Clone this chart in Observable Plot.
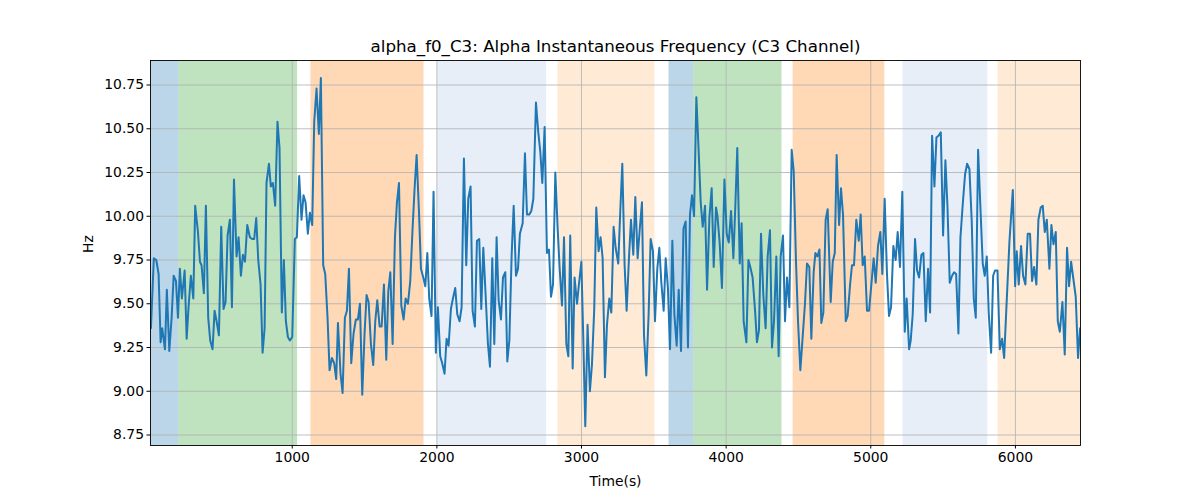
<!DOCTYPE html>
<html>
<head>
<meta charset="utf-8">
<script src="https://cdn.jsdelivr.net/npm/d3@7"></script>
<script src="https://cdn.jsdelivr.net/npm/@observablehq/plot@0.6"></script>
<style>
  html, body { margin: 0; padding: 0; background: white; }
  #chart { width: 1200px; height: 500px; }
</style>
</head>
<body>
<div id="chart"></div>
<script>
const titleText = "alpha_f0_C3: Alpha Instantaneous Frequency (C3 Channel)";
const xLabel = "Time(s)";
const yLabel = "Hz";

const xTicks = [1000, 2000, 3000, 4000, 5000, 6000];
const yTicks = [8.75, 9.0, 9.25, 9.5, 9.75, 10.0, 10.25, 10.5, 10.75];

// shaded state intervals
const spanStart = [0, 216, 1129, 2003, 2837, 3605, 3776, 4463, 5223, 5880];
const spanEnd   = [216, 1037, 1911, 2759, 3508, 3776, 4386, 5097, 5809, 6460];
const spanType  = ["s0", "s1", "s2", "s3", "s4", "s0", "s1", "s2", "s3", "s4"];

const timeS = [
  23,43,60,76,90,101,120,133,150,166,180,196,210,223,237,256,270,283,299,316,
  329,348,362,373,389,403,419,433,449,463,477,493,509,525,539,553,569,583,597,615,
  629,645,659,
  673,689,707,723,737,751,765,781,795,809,822,839,852,866,882,898,912,928,942,956,
  970,984,1000,1018,1032,1048,1064,1078,1092,1108,1122,1138,1152,1168,1184,1198,1214,1228,1244,1258,
  1274,1290,1304,1316,
  1334,1348,1364,1378,1392,1408,1424,1440,1454,1468,1484,1500,1514,1528,1544,1560,1574,1588,1604,1618,
  1634,1650,1664,1678,1694,1710,1724,1738,1754,1770,1784,1800,1816,1832,1846,1860,1876,1890,1906,1920,
  1934,1947,1963,1977,
  1993,2007,2023,2037,2053,2067,2081,2097,2111,2127,2141,2157,2171,2187,2203,2217,2233,2247,2263,2277,
  2293,2307,2321,2337,2353,2367,2383,2397,2413,2427,2443,2457,2473,2487,2501,2517,2531,2547,2561,2574,
  2593,2609,2623,2639,2653,
  2667,2685,2701,2715,2729,2745,2761,2775,2789,2803,2819,2835,2849,2865,2879,2895,2909,2922,2939,2952,
  2969,2982,2999,3012,3026,3042,3058,3072,3088,3102,3118,3132,3146,3162,3176,3192,3206,3222,3236,3254,
  3268,3282,3298,
  3312,3328,3342,3358,3372,3388,3402,3418,3432,3448,3464,3478,3494,3508,3524,3538,3552,3568,3582,3598,
  3612,3628,3642,3658,3672,3688,3705,3720,3736,3750,3764,3778,3794,3808,3824,3838,3854,3868,3884,3900,
  3914,3930,3940,
  3955,3971,3988,4004,4018,4034,4050,4064,4077,4094,4107,4121,4140,4154,4167,4183,4200,4213,4227,4241,
  4257,4273,4287,4303,4317,4331,4347,4363,4377,4393,4407,4421,4437,4453,4467,4483,4497,4513,4529,4545,
  4559,4575,4589,4605,
  4617,4631,4645,4658,4672,4688,4702,4723,4737,4751,4764,4781,4794,4808,4827,4840,4857,4870,4884,4900,
  4917,4930,4944,4958,4974,4988,5004,5020,5034,5050,5066,5080,5096,5112,5126,5140,5156,5172,5186,5202,
  5218,5235,5248,5265,
  5276,5290,5306,5320,5334,5350,5364,5380,5396,5410,5424,5440,5454,5468,5484,5500,5516,5530,5546,5562,
  5576,5590,5606,5620,5636,5652,5666,5682,5698,5712,5726,5742,5758,5774,5788,5802,5816,5832,5846,5859,
  5876,5892,
  5908,5922,5940,5959,5982,5998,6009,6023,6039,6053,6069,6085,6101,6115,6129,6145,6159,6175,6189,6203,
  6217,6235,6249,6263,6279,6293,6307,6325,6341,6357,6371,6385,6401,6417,6433,6447
];

const alphaHz = [
  9.36,9.76,9.75,9.67,9.28,9.36,9.24,9.58,9.23,9.42,9.66,9.63,9.42,9.70,9.53,9.69,9.30,9.48,9.66,9.53,
  10.06,9.91,9.74,9.72,9.56,10.06,9.42,9.29,9.24,9.46,9.40,9.32,9.94,9.47,9.51,9.89,9.98,9.48,10.21,9.77,
  9.88,9.66,9.78,
  9.74,9.95,9.88,9.87,9.87,9.99,9.75,9.61,9.22,9.36,10.19,10.30,10.17,10.19,10.06,10.54,10.39,9.45,9.75,9.40,
  9.31,9.29,9.31,9.87,9.88,10.23,9.98,10.12,10.08,9.90,10.02,9.95,10.54,10.73,10.47,10.79,9.72,9.67,9.42,9.12,
  9.19,9.16,9.07,9.39,
  9.10,8.99,9.42,9.46,9.70,9.16,9.33,9.41,9.41,9.50,8.98,9.33,9.55,9.51,9.27,9.15,9.40,9.52,9.37,9.37,
  9.61,9.18,9.57,9.68,9.27,9.88,10.08,10.19,9.49,9.41,9.53,9.50,9.63,9.93,10.16,10.35,10.03,9.70,9.65,9.60,
  9.79,9.53,9.43,10.14,
  9.22,9.48,9.20,9.16,9.10,9.30,9.26,9.47,9.53,9.59,9.44,9.40,9.48,10.33,9.72,10.10,10.17,9.46,9.37,9.86,
  9.87,9.47,9.82,9.55,9.27,9.14,9.76,9.27,9.88,9.52,9.41,9.65,9.68,9.17,9.29,9.78,10.06,9.66,9.70,9.90,
  9.96,10.36,10.01,10.01,10.03,
  10.10,10.65,10.48,10.37,10.19,10.51,9.79,9.81,9.54,9.61,10.25,9.93,9.70,9.49,9.88,9.27,9.20,9.89,9.13,9.65,
  9.50,9.61,9.74,9.31,8.80,9.38,9.00,9.15,9.47,10.05,9.80,9.88,9.76,9.08,9.38,9.53,9.45,9.94,9.82,9.73,
  10.03,10.30,9.72,
  9.46,9.76,9.98,9.78,10.11,9.76,9.92,10.08,9.32,9.09,9.44,9.87,9.80,9.40,9.70,9.82,9.62,9.46,9.76,9.58,
  9.24,9.86,9.44,9.26,9.58,9.23,9.93,9.97,9.25,10.01,10.12,10.00,10.68,10.41,10.08,9.94,10.06,9.58,9.99,10.16,
  9.71,10.05,10.00,
  9.85,9.59,10.21,9.90,9.85,10.03,9.76,10.07,10.39,9.73,9.96,9.40,9.28,9.75,9.71,9.65,9.46,9.28,9.35,9.90,
  9.55,9.36,9.77,9.92,9.25,9.40,9.77,9.20,9.77,9.89,9.40,9.65,9.48,10.38,10.26,9.74,9.40,9.12,9.31,9.50,
  9.73,9.71,9.30,9.68,
  9.79,9.77,9.81,9.39,9.45,9.98,10.04,9.51,9.74,9.79,10.35,9.95,10.16,10.01,9.40,9.43,9.61,9.72,9.72,9.98,
  9.86,10.01,9.72,9.77,9.46,9.46,9.61,9.76,9.62,9.83,9.91,9.67,10.10,9.67,9.43,9.48,9.83,9.75,9.91,9.71,
  10.14,9.34,9.53,9.24,
  9.29,9.44,9.87,9.69,9.65,9.78,9.79,9.40,9.70,9.45,10.46,10.17,10.45,10.46,10.48,9.89,10.32,10.06,9.62,9.66,
  9.68,9.67,9.33,9.88,10.07,10.24,10.30,10.27,9.97,9.53,9.42,10.38,10.05,9.73,9.66,9.77,9.44,9.22,9.66,9.69,
  9.69,9.24,
  9.30,9.19,9.52,9.86,10.15,9.60,9.80,9.61,9.83,9.66,9.61,9.90,9.90,9.63,9.71,9.61,9.98,10.05,10.06,9.91,
  9.98,9.70,9.95,9.84,9.91,9.40,9.34,9.51,9.21,9.82,9.60,9.74,9.64,9.54,9.19,9.36
];

const series = timeS.map((t, i) => ({t, v: alphaHz[i]}));
const spans = spanStart.map((s, i) => ({start: s, end: spanEnd[i], type: spanType[i]}));

const fmt2 = d3.format(".2f");
const fmtInt = d3.format("d");
const tickFont = 13.9;

const chart = Plot.plot({
  width: 1200,
  height: 500,
  marginLeft: 150,
  marginRight: 120,
  marginTop: 60,
  marginBottom: 55,
  style: {fontFamily: "DejaVu Sans", fontSize: tickFont + "px", background: "white", color: "black"},
  x: {domain: [20, 6450]},
  y: {domain: [8.69, 10.89]},
  color: {domain: ["s0", "s1", "s2", "s3", "s4"], range: ["#1f77b4", "#2ca02c", "#ff7f0e", "#aec7e8", "#ffbb78"]},
  marks: [
    Plot.rect(spans, {x1: "start", x2: "end", fill: "type", fillOpacity: 0.3, clip: true}),
    Plot.ruleX(xTicks, {stroke: "#b0b0b0", strokeWidth: 0.8}),
    Plot.ruleY(yTicks, {stroke: "#b0b0b0", strokeWidth: 0.8}),
    Plot.line(series, {x: "t", y: "v", stroke: "#1f77b4", strokeWidth: 2, clip: true}),
    Plot.frame({stroke: "black", strokeWidth: 0.9}),
    Plot.axisX({ticks: xTicks, tickSize: 3.5, tickPadding: 3, tickFormat: fmtInt, label: null, fontSize: tickFont}),
    Plot.axisY({ticks: yTicks, tickSize: 3.5, tickPadding: 3, tickFormat: fmt2, label: null, fontSize: tickFont}),
    Plot.text([xLabel], {text: d => d, frameAnchor: "bottom", lineAnchor: "middle", dy: 36, fontSize: tickFont}),
    Plot.text([yLabel], {text: d => d, frameAnchor: "left", lineAnchor: "middle", dx: -62, rotate: -90, fontSize: tickFont}),
    Plot.text([titleText], {text: d => d, frameAnchor: "top", lineAnchor: "middle", dy: -14, fontSize: 16.7})
  ]
});
document.getElementById("chart").appendChild(chart);
</script>
</body>
</html>
